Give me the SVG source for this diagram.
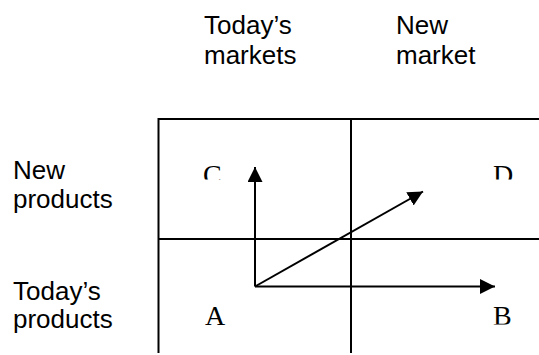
<svg xmlns="http://www.w3.org/2000/svg" width="539" height="355" viewBox="0 0 539 355">
  <style>
    .lbl { font-family: "Liberation Sans", Arial, sans-serif; font-size: 26px; fill: #000; }
    .q { font-family: "Liberation Serif", "Times New Roman", serif; font-size: 28px; fill: #000; }
    .grid { stroke: #000; stroke-width: 2; fill: none; }
    .arrow { stroke: #000; stroke-width: 2; fill: none; marker-end: url(#head); }
  </style>
  <defs>
    <marker id="head" markerUnits="userSpaceOnUse" markerWidth="16" markerHeight="16" viewBox="0 0 16 16" refX="15" refY="7.5" orient="auto">
      <path d="M0,0 L15,7.5 L0,15 Z" fill="#000"/>
    </marker>
    <clipPath id="clipTop"><rect x="150" y="120" width="389" height="59.5"/></clipPath>
    <clipPath id="clipBottom"><rect x="150" y="240" width="389" height="84.5"/></clipPath>
  </defs>

  <g id="column-headers">
    <text class="lbl" x="204" y="34">Today’s</text>
    <text class="lbl" x="204" y="64">markets</text>
    <text class="lbl" x="396" y="34">New</text>
    <text class="lbl" x="396" y="64">market</text>
  </g>

  <g id="row-headers">
    <text class="lbl" x="13" y="179">New</text>
    <text class="lbl" x="13" y="208">products</text>
    <text class="lbl" x="13" y="300">Today’s</text>
    <text class="lbl" x="13" y="328">products</text>
  </g>

  <g id="grid">
    <path class="grid" d="M158.5,353 V119 H539 M351,119 V353 M158.5,239 H539"/>
  </g>

  <g id="quadrant-C" clip-path="url(#clipTop)"><text class="q" x="203" y="184">C</text></g>
  <g id="quadrant-D" clip-path="url(#clipTop)"><text class="q" x="493" y="184">D</text></g>
  <g id="quadrant-A"><text class="q" x="205" y="324.5">A</text></g>
  <g id="quadrant-B" clip-path="url(#clipBottom)"><text class="q" x="493" y="324.5">B</text></g>

  <g id="connectors">
    <line class="arrow" x1="255" y1="286.5" x2="255" y2="167"/>
    <line class="arrow" x1="255" y1="286.5" x2="495" y2="286.5"/>
    <line class="arrow" x1="255" y1="286.5" x2="423" y2="191.5"/>
  </g>
</svg>
